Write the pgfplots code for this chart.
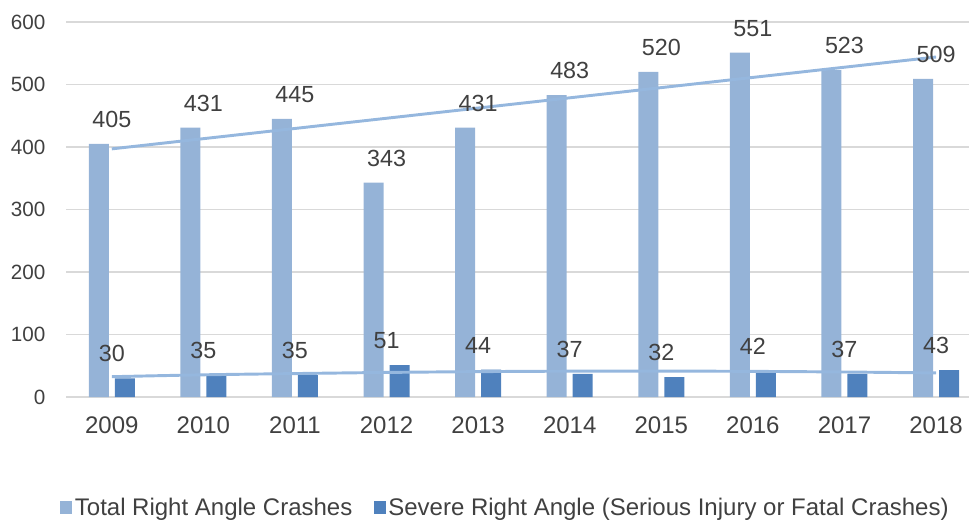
\documentclass[border=0pt]{standalone}
\usepackage{pgfplots}
\pgfplotsset{compat=1.18}
\usepackage{fontspec}
\setmainfont{Liberation Sans}
\definecolor{totc}{HTML}{95B3D7}
\definecolor{sevc}{HTML}{4F81BD}
\definecolor{trend}{HTML}{95B7DE}
\definecolor{gridc}{HTML}{D9D9D9}
\definecolor{txt}{HTML}{404040}
\begin{document}
\begin{tikzpicture}
\begin{axis}[
  at={(0,0)}, anchor=south west,
  scale only axis, width=677.25pt, height=281.25pt,
  xmin=-0.5, xmax=9.36, ymin=0, ymax=600,
  axis line style={draw=none},
  ytick={0,100,...,600}, ymajorgrids,
  grid style={gridc, line width=1.25pt},
  major tick length=0pt,
  xtick={0,...,9},
  xticklabels={2009,2010,2011,2012,2013,2014,2015,2016,2017,2018},
  tick label style={text=txt},
  /pgf/number format/assume math mode=true,
  yticklabel style={anchor=east, xshift=-12pt, font=\fontsize{15.5}{18}\selectfont},
  xticklabel style={anchor=north, yshift=-11pt, font=\fontsize{18}{21}\selectfont},
  clip=false,
  nodes near coords style={anchor=south, yshift=8.5pt, font=\fontsize{17.5}{20}\selectfont, text=txt},
  legend style={at={(0.487,-0.296)}, anchor=center, draw=none, fill=none,
    legend columns=2, font=\fontsize{18}{21}\selectfont, text=txt,
    nodes={inner xsep=2pt},
    /tikz/every even column/.append style={column sep=14pt}},
  legend cell align=left,
  legend image code/.code={\fill[#1] (0pt,-4.5pt) rectangle (9pt,5pt);},
]
\addplot[ybar, bar width=15pt, bar shift=-9.75pt, fill=totc, draw=none, nodes near coords]
  coordinates {(0,405) (1,431) (2,445) (3,343) (4,431) (5,483) (6,520) (7,551) (8,523) (9,509)};
\addplot[ybar, bar width=15pt, bar shift=9.75pt, fill=sevc, draw=none, nodes near coords]
  coordinates {(0,30) (1,35) (2,35) (3,51) (4,44) (5,37) (6,32) (7,42) (8,37) (9,43)};
\legend{Total Right Angle Crashes, Severe Right Angle (Serious Injury or Fatal Crashes)}
\addplot[trend, line width=2.2pt, no marks, sharp plot, forget plot]
  coordinates {(0,397) (9,544)};
\addplot[trend, line width=2.2pt, no marks, smooth, forget plot]
  coordinates {(0,32.5) (1,35.5) (2,37.5) (3,39.3) (4,40.6) (5,41.3) (6,41.5) (7,41) (8,40) (9,38.5)};
\end{axis}
\pgfresetboundingbox
\useasboundingbox (-49.5pt,-93pt) rectangle (677.25pt,297.75pt);
\end{tikzpicture}
\end{document}
